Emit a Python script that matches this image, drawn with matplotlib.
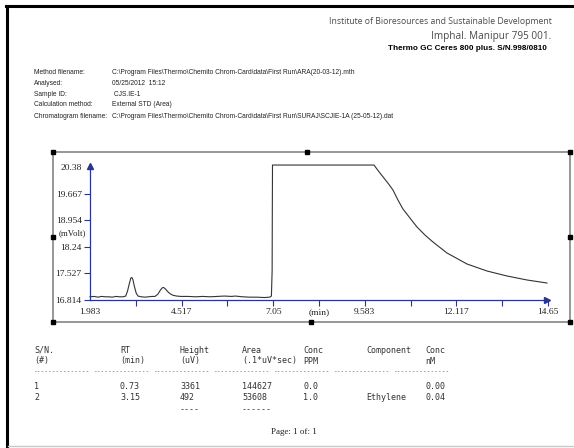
import matplotlib
matplotlib.use("Agg")
import matplotlib.pyplot as plt
from matplotlib.lines import Line2D
from matplotlib.patches import Rectangle
from matplotlib import font_manager

# ---------------- data ----------------
time_min = [1.983, 2.10, 2.20, 2.30, 2.40, 2.50, 2.60, 2.70, 2.80, 2.90, 2.97,
            3.02, 3.07, 3.11, 3.14, 3.17, 3.21, 3.26, 3.31, 3.40,
            3.50, 3.60, 3.70, 3.78, 3.86, 3.93, 3.98, 4.02, 4.07, 4.13, 4.20, 4.28, 4.38, 4.50,
            4.70, 4.90, 5.10, 5.30, 5.50, 5.70, 5.90, 6.00, 6.20, 6.40, 6.60, 6.80, 6.95, 7.00,
            7.02, 7.025, 7.03,
            9.837, 9.947, 10.085, 10.223, 10.362, 10.500, 10.638, 10.832, 11.026,
            11.247, 11.468, 11.856, 12.409, 12.962, 13.515, 14.068, 14.621]
signal_mv = [16.90, 16.91, 16.89, 16.91, 16.90, 16.90, 16.89, 16.91, 16.90, 16.90, 16.92,
             17.05, 17.25, 17.40, 17.42, 17.36, 17.18, 17.00, 16.92, 16.90,
             16.89, 16.90, 16.91, 16.91, 16.97, 17.08, 17.14, 17.15, 17.11, 17.04, 16.98, 16.94, 16.92, 16.91,
             16.91, 16.90, 16.91, 16.90, 16.91, 16.92, 16.91, 16.92, 16.90, 16.89, 16.89, 16.88, 16.89, 16.92,
             17.60, 19.20, 20.435,
             20.435, 20.290, 20.120, 19.950, 19.764, 19.496, 19.255, 19.013, 18.772,
             18.557, 18.370, 18.075, 17.780, 17.592, 17.458, 17.351, 17.270]

x_ticks = [1.983, 3.25, 4.517, 5.783, 7.05, 8.317, 9.583, 10.85, 12.117, 13.383, 14.65]
x_tick_labels = ["1.983", "", "4.517", "", "7.05", "(min)", "9.583", "", "12.117", "", "14.65"]
y_ticks = [16.814, 17.527, 18.24, 18.954, 19.667, 20.38]
y_tick_labels = ["16.814", "17.527", "18.24", "18.954", "19.667", "20.38"]

header_lines = ["Institute of Bioresources and Sustainable Development",
                "Imphal. Manipur 795 001.",
                "Thermo GC Ceres 800 plus. S/N.998/0810"]
meta_labels = ["Method filename:", "Analysed:", "Sample ID:", "Calculation method:",
               "Chromatogram filename:"]
meta_values = [r"C:\Program Files\Thermo\Chemito Chrom-Card\data\First Run\ARA(20-03-12).mth",
               "05/25/2012  15:12",
               " CJS.IE-1",
               "External STD (Area)",
               r"C:\Program Files\Thermo\Chemito Chrom-Card\data\First Run\SURAJ\SCJIE-1A (25-05-12).dat"]

table_head1 = ["S/N.", "RT", "Height", "Area", "Conc", "Component", "Conc"]
table_head2 = ["(#)", "(min)", "(uV)", "(.1*uV*sec)", "PPM", "", "nM"]
table_rows = [["1", "0.73", "3361", "144627", "0.0", "", "0.00"],
              ["2", "3.15", "492", "53608", "1.0", "Ethylene", "0.04"]]
table_totals = ["", "", "----", "------", "", "", ""]

# ---------------- figure ----------------
W, H = 574, 448
fig = plt.figure(figsize=(W / 100, H / 100), dpi=100)
fig.patch.set_facecolor("white")

available = {f.name for f in font_manager.fontManager.ttflist}
narrow = "Liberation Sans Narrow" if "Liberation Sans Narrow" in available else "Liberation Sans"
head_font = "Open Sans" if "Open Sans" in available else "DejaVu Sans"


def fx(x):
    return x / W


def fy(y):
    return 1 - y / H


renderer = fig.canvas.get_renderer()


def put(x, y, s, size=6, width=None, ha="left", **kw):
    t = fig.text(fx(x), fy(y), s, ha=ha, va="center", fontsize=size, **kw)
    if width:
        bb = t.get_window_extent(renderer=renderer)
        if bb.width > 0:
            t.set_fontsize(size * width / bb.width)
    return t


# outer page border
fig.add_artist(Line2D([fx(7), fx(7)], [fy(6), fy(448)], color="black", lw=2.2,
                      transform=fig.transFigure))
fig.add_artist(Line2D([fx(6), fx(574)], [fy(6), fy(6)], color="black", lw=2.2,
                      transform=fig.transFigure))
fig.add_artist(Line2D([fx(8), fx(574)], [fy(446), fy(446)], color="#c8c8c8", lw=1,
                      transform=fig.transFigure))

# header
put(552, 22, header_lines[0], size=7, width=225, ha="right", color="#4a4a4a",
    family=head_font)
put(551, 37, header_lines[1], size=8, width=121, ha="right", color="#4a4a4a",
    family=head_font)
put(547, 48, header_lines[2], size=5.5, width=158, ha="right", color="black",
    family="Liberation Sans", fontweight="bold")

# metadata
meta_y = [72, 83, 94, 105, 116]
t = put(112, meta_y[-1], meta_values[-1], size=5.2, width=283, color="#222", family=narrow)
val_size = t.get_fontsize()
put(34, meta_y[-1], meta_labels[-1], size=val_size, color="#222", family=narrow)
for lab, val, yy in zip(meta_labels[:-1], meta_values[:-1], meta_y[:-1]):
    put(34, yy, lab, size=val_size, color="#222", family=narrow)
    put(112, yy, val, size=val_size, color="#222", family=narrow)

# chart frame
x0, y0, x1, y1 = 53, 152, 570, 322
fig.add_artist(Rectangle((fx(x0), fy(y1)), fx(x1) - fx(x0), fy(y0) - fy(y1),
                         fill=False, edgecolor="#7a7a7a", lw=1.1,
                         transform=fig.transFigure))
for (px, py) in [(x0, y0), (307, y0), (x1, y0), (x0, 237), (x1, 237),
                 (x0, y1), (311, y1), (x1, y1)]:
    fig.add_artist(Line2D([fx(px)], [fy(py)], marker="s", ms=2.2, color="black",
                          transform=fig.transFigure))

# axes
navy = "#2a3590"
ax = fig.add_axes([fx(90), fy(300), fx(552) - fx(90), fy(160) - fy(300)])
ax.set_facecolor("none")
ax.set_xlim(1.983, 14.76)
ax.set_ylim(16.814, 20.57)
ax.plot(time_min, signal_mv, color="#333333", lw=0.8, clip_on=False)
for s in ["top", "right"]:
    ax.spines[s].set_visible(False)
ax.spines["left"].set_color(navy)
ax.spines["bottom"].set_color(navy)
ax.spines["left"].set_linewidth(0.9)
ax.spines["bottom"].set_linewidth(0.9)
ax.spines["left"].set_bounds(16.814, 20.40)
ax.spines["bottom"].set_bounds(1.983, 14.62)
ax.plot([1.983], [20.40], marker="^", ms=4.5, color=navy, clip_on=False)
ax.plot([14.62], [16.814], marker=">", ms=4.5, color=navy, clip_on=False)

ax.set_xticks(x_ticks)
ax.set_xticklabels(x_tick_labels)
ax.set_yticks(y_ticks)
ax.set_yticklabels(y_tick_labels)
ax.tick_params(axis="both", colors=navy, length=4, width=0.8, direction="out",
               labelcolor="#222", labelsize=6.8, pad=2)
for lbl in ax.get_xticklabels() + ax.get_yticklabels():
    lbl.set_family("Liberation Serif")
ax.xaxis.get_major_ticks()[0].tick1line.set_visible(False)
ax.yaxis.get_major_ticks()[-1].tick1line.set_visible(False)

put(72, 233, "(mVolt)", size=6.3, ha="center", color="#222", family="Liberation Serif")

# results table
col_x = [34, 120, 180, 242, 303, 366, 425]
mono = dict(family="DejaVu Sans Mono", color="#333")
msize = 6.0
for cx, h1, h2 in zip(col_x, table_head1, table_head2):
    put(cx, 350, h1, size=msize, **mono)
    put(cx, 361, h2, size=msize, **mono)
dash_starts = [34, 94, 154, 214, 274, 334, 394]
for dx in dash_starts:
    put(dx, 372, "-" * 15, size=msize, width=55, **mono)
for row, yy in zip(table_rows, [386, 397]):
    for cx, val in zip(col_x, row):
        put(cx, yy, val, size=msize, **mono)
for cx, val in zip(col_x, table_totals):
    if val:
        put(cx, 410, val, size=msize, **mono)

put(294, 432, "Page: 1 of: 1", size=6.5, ha="center", color="#222",
    family="Liberation Serif")

fig.savefig("out.png", dpi=100, facecolor="white")
